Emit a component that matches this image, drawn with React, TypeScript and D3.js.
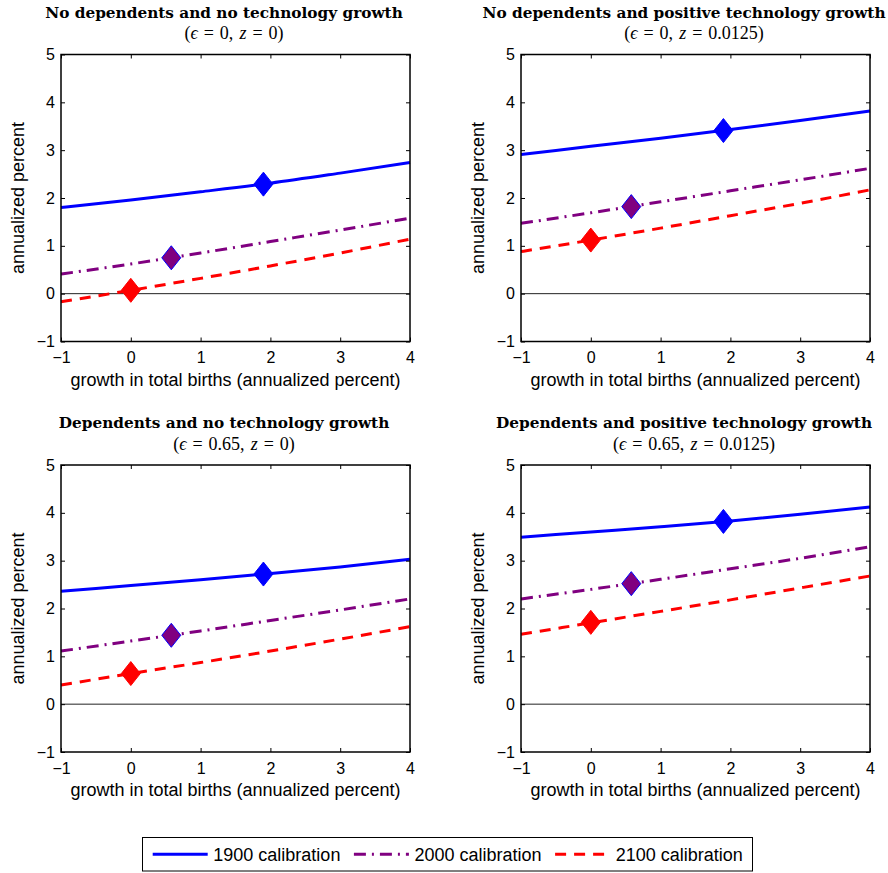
import React, { useEffect, useRef } from 'react';
import * as d3 from 'd3';

// growth in total births (annualized percent), x positions the curves are read at
const births = [-1, 0, 1, 2, 3, 4];

const titles = [
  'No dependents and no technology growth',
  'No dependents and positive technology growth',
  'Dependents and no technology growth',
  'Dependents and positive technology growth',
];
const epsilons = ['0', '0', '0.65', '0.65'];
const zs = ['0', '0.0125', '0', '0.0125'];

// one row per panel, values at each births[] point
const cal1900 = [
  [1.80, 1.96, 2.13, 2.31, 2.52, 2.74],
  [2.91, 3.08, 3.25, 3.43, 3.62, 3.82],
  [2.36, 2.48, 2.60, 2.73, 2.87, 3.03],
  [3.49, 3.60, 3.71, 3.83, 3.97, 4.12],
];
const cal2000 = [
  [0.41, 0.62, 0.85, 1.09, 1.33, 1.58],
  [1.47, 1.69, 1.92, 2.15, 2.38, 2.62],
  [1.11, 1.32, 1.53, 1.75, 1.97, 2.20],
  [2.20, 2.40, 2.61, 2.83, 3.05, 3.29],
];
const cal2100 = [
  [-0.17, 0.07, 0.32, 0.58, 0.85, 1.14],
  [0.88, 1.12, 1.37, 1.63, 1.89, 2.17],
  [0.40, 0.64, 0.87, 1.11, 1.36, 1.62],
  [1.46, 1.70, 1.94, 2.18, 2.43, 2.68],
];

// calibration points (diamonds): [x, y] per panel
const mark1900 = [[1.9, 2.29], [1.9, 3.41], [1.9, 2.72], [1.9, 3.82]];
const mark2000 = [[0.58, 0.75], [0.58, 1.82], [0.58, 1.44], [0.58, 2.52]];
const mark2100 = [[0, 0.07], [0, 1.12], [0, 0.64], [0, 1.71]];

const seriesNames = ['1900 calibration', '2000 calibration', '2100 calibration'];
const xTicks = [-1, 0, 1, 2, 3, 4];
const yTicks = [-1, 0, 1, 2, 3, 4, 5];

const W = 888, H = 873;
const PW = 349, PH = 287;
const panelPos = [
  { left: 61, top: 54.5 },
  { left: 521, top: 54.5 },
  { left: 61, top: 465 },
  { left: 521, top: 465 },
];

const series = [
  { name: seriesNames[0], values: cal1900, marks: mark1900, color: '#0000ff', edge: '#0000ff', dash: null },
  { name: seriesNames[1], values: cal2000, marks: mark2000, color: '#800080', edge: '#0000ff', dash: '12,6,2,6' },
  { name: seriesNames[2], values: cal2100, marks: mark2100, color: '#ff0000', edge: '#ff0000', dash: '11,8' },
];

const SANS = 'Liberation Sans, Arial, Helvetica, sans-serif';
const SERIF = 'Liberation Serif, DejaVu Serif, serif';

const App = () => {
  const svgRef = useRef<SVGSVGElement>(null);

  useEffect(() => {
    const svg = d3.select(svgRef.current);
    svg.selectAll('*').remove();

    const x = d3.scaleLinear().domain([-1, 4]).range([0, PW]);
    const y = d3.scaleLinear().domain([-1, 5]).range([PH, 0]);
    const diamond = 'M0,-12L9.5,0L0,12L-9.5,0Z';
    const fmt = d3.format('d');

    panelPos.forEach((pos, i) => {
      const g = svg.append('g').attr('transform', `translate(${pos.left},${pos.top})`);

      g.append('rect').attr('width', PW).attr('height', PH).attr('fill', '#fff');

      // titles
      g.append('text')
        .attr('x', PW / 2 - 11.5)
        .attr('y', -37)
        .attr('text-anchor', 'middle')
        .attr('font-family', 'DejaVu Serif, serif')
        .attr('font-weight', 'bold')
        .attr('font-size', 15.3)
        .text(titles[i]);

      const sub = g.append('text')
        .attr('x', PW / 2 - 1.5)
        .attr('y', -15.5)
        .attr('text-anchor', 'middle')
        .attr('font-family', SERIF)
        .attr('font-size', 18)
        .attr('word-spacing', 1.5)
        .style('white-space', 'pre');
      sub.append('tspan').text('(');
      sub.append('tspan').attr('font-style', 'italic').text('ϵ');
      sub.append('tspan').text(` = ${epsilons[i]}, `);
      sub.append('tspan').attr('font-style', 'italic').text('z');
      sub.append('tspan').text(` = ${zs[i]})`);

      // zero line
      g.append('line')
        .attr('x1', 0).attr('x2', PW)
        .attr('y1', y(0)).attr('y2', y(0))
        .attr('stroke', '#222').attr('stroke-width', 1);

      // curves
      const line = d3.line<number>()
        .x((d, j) => x(births[j]))
        .y(d => y(d))
        .curve(d3.curveMonotoneX);

      series.forEach(s => {
        g.append('path')
          .attr('d', line(s.values[i]))
          .attr('fill', 'none')
          .attr('stroke', s.color)
          .attr('stroke-width', 3)
          .attr('stroke-dasharray', s.dash);
      });

      series.forEach(s => {
        const m = s.marks[i];
        g.append('path')
          .attr('d', diamond)
          .attr('transform', `translate(${x(m[0])},${y(m[1])})`)
          .attr('fill', s.color)
          .attr('stroke', s.edge)
          .attr('stroke-width', 1);
      });

      // axes, ticks inside on all four sides
      const styleAxis = (a, size) => {
        a.select('.domain').remove();
        a.selectAll('line').attr('stroke', '#000').attr('stroke-width', 1);
        a.selectAll('text').attr('font-family', SANS).attr('font-size', size).attr('fill', '#000');
      };

      const bottom = g.append('g').attr('transform', `translate(0,${PH})`)
        .call(d3.axisBottom(x).tickValues(xTicks).tickFormat(fmt).tickSize(-4).tickPadding(10.6));
      styleAxis(bottom, 16);
      const left = g.append('g')
        .call(d3.axisLeft(y).tickValues(yTicks).tickFormat(fmt).tickSize(-4).tickPadding(6));
      styleAxis(left, 16);
      const top = g.append('g')
        .call(d3.axisTop(x).tickValues(xTicks).tickSize(-4).tickFormat(() => ''));
      styleAxis(top, 16);
      const right = g.append('g').attr('transform', `translate(${PW},0)`)
        .call(d3.axisRight(y).tickValues(yTicks).tickSize(-4).tickFormat(() => ''));
      styleAxis(right, 16);

      g.append('rect')
        .attr('width', PW).attr('height', PH)
        .attr('fill', 'none').attr('stroke', '#000').attr('stroke-width', 1.5);

      // axis labels
      g.append('text')
        .attr('x', PW / 2)
        .attr('y', PH + 44)
        .attr('text-anchor', 'middle')
        .attr('font-family', SANS)
        .attr('font-size', 18)
        .text('growth in total births (annualized percent)');

      g.append('text')
        .attr('transform', `translate(-37.5,${PH / 2}) rotate(-90)`)
        .attr('text-anchor', 'middle')
        .attr('font-family', SANS)
        .attr('font-size', 18)
        .text('annualized percent');
    });

    // legend
    const lg = svg.append('g').attr('transform', 'translate(142.5,837.5)');
    lg.append('rect')
      .attr('width', 610).attr('height', 33.5)
      .attr('fill', '#fff').attr('stroke', '#000').attr('stroke-width', 1);

    series.forEach((s, k) => {
      const x0 = 10.2 + k * 201.2;
      lg.append('line')
        .attr('x1', x0).attr('x2', x0 + 55)
        .attr('y1', 16.7).attr('y2', 16.7)
        .attr('stroke', s.color)
        .attr('stroke-width', 3)
        .attr('stroke-dasharray', s.dash);
      lg.append('text')
        .attr('x', x0 + 60.6)
        .attr('y', 16.8)
        .attr('dy', '0.35em')
        .attr('font-family', SANS)
        .attr('font-size', 18)
        .text(s.name);
    });
  }, []);

  return (
    <svg
      ref={svgRef}
      width={W}
      height={H}
      style={{ position: 'absolute', left: 0, top: 0, background: '#fff' }}
    />
  );
};

export default App;
